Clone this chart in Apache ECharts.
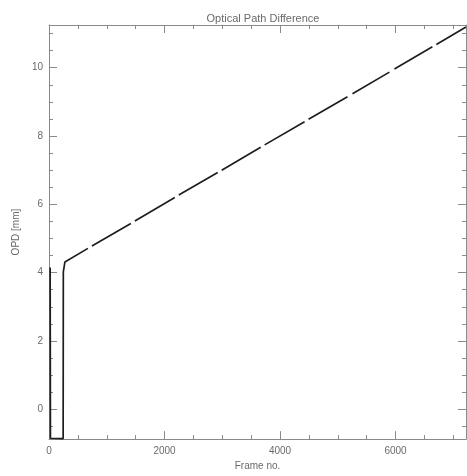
<!DOCTYPE html>
<html><head><meta charset="utf-8">
<script src="https://cdn.jsdelivr.net/npm/echarts@6/dist/echarts.min.js"></script>
<style>html,body{margin:0;padding:0;background:#fff}#c{width:467px;height:476px}</style>
</head><body><div id="c"></div>
<script>
// Frame numbers and OPD values (mm); null = gap in data
const frames = [20, 25, 245, 248, 275, 674, 708, 743, 1417, 1452, 1487, 2178, 2212, 2247, 2921, 2955, 2990, 3665, 3700, 3734, 4425, 4460, 4494, 5168, 5210, 5255, 5894, 5938, 5981, 6638, 6672, 6707, 7220];
const opd    = [4.15, -0.85, -0.86, 4.02, 4.31, 4.71, null, 4.78, 5.44, null, 5.51, 6.20, null, 6.27, 6.93, null, 7.00, 7.67, null, 7.74, 8.42, null, 8.49, 9.15, null, 9.24, 9.87, null, 9.96, 10.61, null, 10.68, 11.19];
const yMajorTicks = [0, 2, 4, 6, 8, 10];
const yMinorTicks = [-0.5, 0.5, 1, 1.5, 2.5, 3, 3.5, 4.5, 5, 5.5, 6.5, 7, 7.5, 8.5, 9, 9.5, 10.5, 11];
const xMin = 0, xMax = 7220, yMin = -0.875, yMax = 11.25;

const axisColor = '#8a8a8a';
const textColor = '#6a6a6a';
const font = 'Liberation Sans';

const chart = echarts.init(document.getElementById('c'), null, {renderer: 'canvas'});
const data = frames.map((f, i) => [f, opd[i] === null ? '-' : opd[i]]);

function xAx(pos, labels) {
  return {
    type: 'value', position: pos, min: xMin, max: xMax, interval: 2000,
    axisLine: {show: true, onZero: false, lineStyle: {color: axisColor, width: 1}},
    axisTick: {show: true, inside: true, length: 8, lineStyle: {color: axisColor}},
    minorTick: {show: true, splitNumber: 4, length: 4, lineStyle: {color: axisColor}},
    splitLine: {show: false}, minorSplitLine: {show: false},
    axisLabel: {show: labels, color: textColor, fontFamily: font, fontSize: 10, margin: 7,
      showMaxLabel: false, formatter: v => String(v)},
    name: labels ? 'Frame no.' : '', nameLocation: 'middle', nameGap: 21,
    nameTextStyle: {color: textColor, fontFamily: font, fontSize: 10}
  };
}
function yAx(pos, ticks, len, labels, line) {
  return {
    type: 'value', position: pos, min: yMin, max: yMax,
    axisLine: {show: line, onZero: false, lineStyle: {color: axisColor, width: 1}},
    axisTick: {show: true, inside: true, length: len, customValues: ticks, lineStyle: {color: axisColor}},
    splitLine: {show: false},
    axisLabel: {show: labels, customValues: yMajorTicks, color: textColor, fontFamily: font, fontSize: 10, margin: 6,
      formatter: v => String(v)},
    name: labels ? 'OPD [mm]' : '', nameLocation: 'middle', nameGap: 19, nameRotate: 90,
    nameTextStyle: {color: textColor, fontFamily: font, fontSize: 10}
  };
}

chart.setOption({
  animation: false,
  backgroundColor: '#fff',
  title: {text: 'Optical Path Difference', left: 258, top: 8, textAlign: 'center',
    textStyle: {color: textColor, fontFamily: font, fontSize: 11, fontWeight: 'normal'}},
  grid: {left: 49, right: 1, top: 25, bottom: 35},
  xAxis: [xAx('bottom', true), xAx('top', false)],
  yAxis: [
    yAx('left', yMajorTicks, 8, true, true),
    yAx('left', yMinorTicks, 4, false, false),
    yAx('right', yMajorTicks, 8, false, true),
    yAx('right', yMinorTicks, 4, false, false)
  ],
  series: [{
    type: 'line', xAxisIndex: 0, yAxisIndex: 0, data: data,
    showSymbol: false, symbol: 'none', connectNulls: false,
    lineStyle: {color: '#1e1e1e', width: 1.7}, clip: true
  }]
});
</script></body></html>
